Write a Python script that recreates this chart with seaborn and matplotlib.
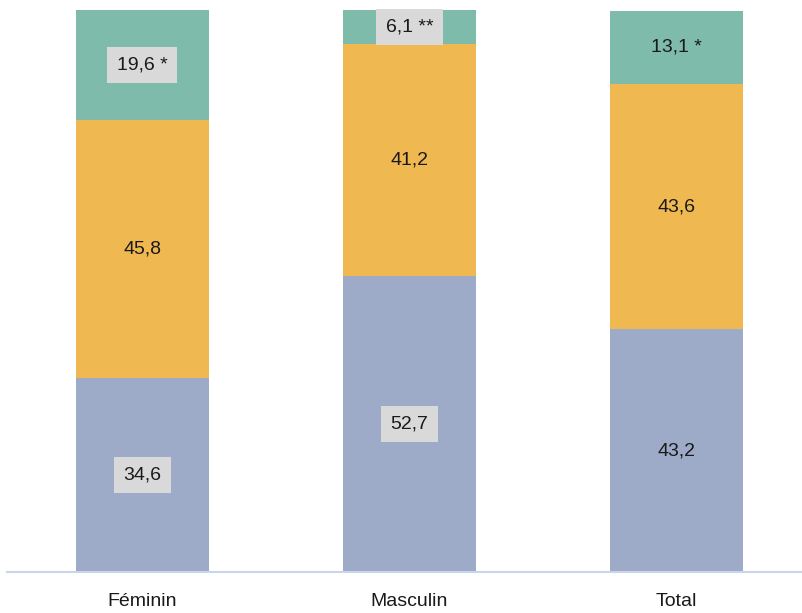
import numpy as np
import pandas as pd
import seaborn as sns
from matplotlib import pyplot as plt

categories = ["Féminin", "Masculin", "Total"]
bottom_vals = [34.6, 52.7, 43.2]
middle_vals = [45.8, 41.2, 43.6]
top_vals = [19.6, 6.1, 13.1]
top_marks = [" *", " **", " *"]
boxed = {"bottom": [True, True, False], "middle": [False, False, False], "top": [True, True, False]}

sns.set_theme(style="white")
plt.rcParams["font.family"] = ["Liberation Sans", "DejaVu Sans"]

df = pd.DataFrame({
    "cat": categories,
    "bottom": bottom_vals,
    "middle": middle_vals,
    "top": top_vals,
})
df["cum_mid"] = df["bottom"] + df["middle"]
df["cum_top"] = df["cum_mid"] + df["top"]

fig = plt.figure(figsize=(8.02, 6.13), dpi=100)
ax = fig.add_axes([0.0087, 0.0669, 0.9913, 0.9168])

# stacked look: draw cumulative totals from the top layer down
sns.barplot(data=df, x="cat", y="cum_top", color="#7fbbaa", saturation=1, width=0.5, linewidth=0, ax=ax)
sns.barplot(data=df, x="cat", y="cum_mid", color="#f0b851", saturation=1, width=0.5, linewidth=0, ax=ax)
sns.barplot(data=df, x="cat", y="bottom", color="#9daac8", saturation=1, width=0.5, linewidth=0, ax=ax)

box = dict(boxstyle="square,pad=0.5", facecolor="#d9d9d9", edgecolor="none")
for i in range(len(categories)):
    layers = [
        ("bottom", df["bottom"][i] / 2, f"{bottom_vals[i]:.1f}".replace(".", ",")),
        ("middle", df["bottom"][i] + middle_vals[i] / 2, f"{middle_vals[i]:.1f}".replace(".", ",")),
        ("top", df["cum_mid"][i] + top_vals[i] / 2, f"{top_vals[i]:.1f}".replace(".", ",") + top_marks[i]),
    ]
    for key, y, txt in layers:
        ax.text(i, y, txt, ha="center", va="center", fontsize=14, color="#1a1a1a",
                bbox=box if boxed[key][i] else None)

ax.set_xlim(-0.507, 2.47)
ax.set_ylim(0, 100)
ax.set_xlabel("")
ax.set_ylabel("")
ax.set_yticks([])
ax.tick_params(axis="x", length=0, labelsize=14, pad=15, colors="#1a1a1a")
for s in ["top", "right", "left"]:
    ax.spines[s].set_visible(False)
ax.spines["bottom"].set_color("#c9d6e8")
ax.spines["bottom"].set_linewidth(1.5)

fig.savefig("out.png", dpi=100)
